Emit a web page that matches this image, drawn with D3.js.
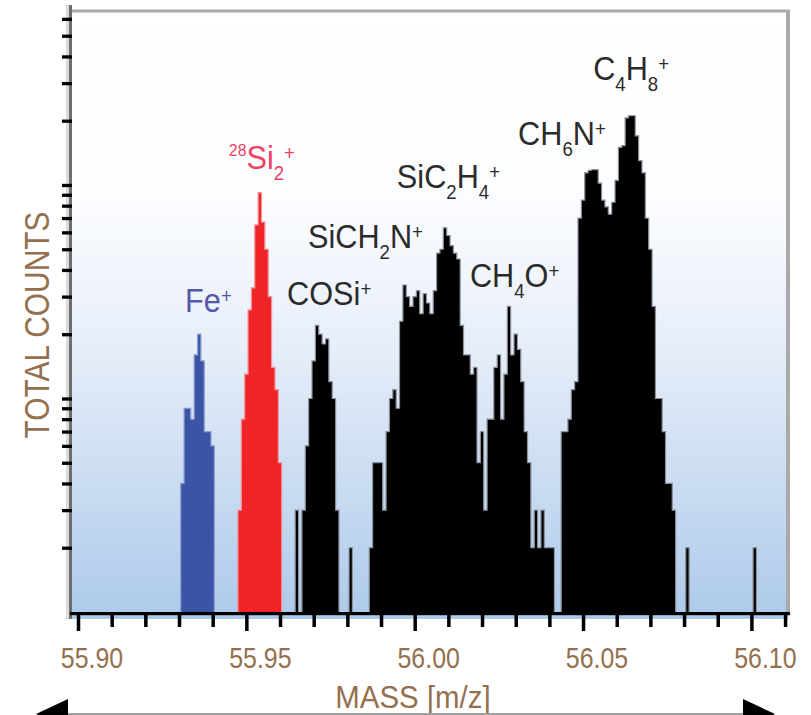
<!DOCTYPE html>
<meta charset="utf-8">
<script src="https://d3js.org/d3.v7.min.js"></script>
<style>
  body { margin: 0; background: #fff; }
  svg { display: block; }
  text { font-family: "Liberation Sans", Arial, sans-serif; }
</style>
<div id="chart"></div>
<script>

// histogram bins are 0.001 m/z wide, centred on the listed masses
const binWidth = 0.001;

// Fe+ (blue)
const feStart = 55.931;
const feCounts = [4, 9, 9, 8, 16, 20, 15, 7, 7, 6];

// 28Si2+ (red)
const siStart = 55.948;
const siCounts = [3, 8, 13, 26, 33, 65, 92, 67, 50, 30, 14, 11, 5];

// everything else (black), 55.965 .. 56.101
const blackStart = 55.965;
const blackCounts = [
  3, 0, 3, 6, 10, 15, 22, 20, 18, 19,
  12, 10, 3, 0, 0, 0, 2, 0, 0, 0,
  0, 0, 2, 5, 5, 5, 3, 7, 10, 11,
  9, 23, 34, 30, 27, 30, 32, 25, 31, 28,
  25, 32, 48, 50, 63, 58, 52, 48, 45, 22,
  16, 16, 13, 14, 5, 7, 3, 8, 8, 14,
  16, 8, 13, 27, 16, 20, 17, 12, 7, 5,
  2, 3, 2, 3, 2, 2, 2, 0, 0, 7,
  7, 8, 11, 12, 70, 85, 114, 117, 118, 118,
  102, 85, 79, 73, 83, 105, 150, 153, 206, 211,
  211, 170, 130, 114, 70, 50, 27, 10, 10, 7,
  4, 4, 3, 0, 0, 0, 2, 0, 0, 0,
  0, 0, 0, 0, 0, 0, 0, 0, 0, 0,
  0, 0, 0, 0, 0, 0, 2
];

const xTicks = [55.90, 55.91, 55.92, 55.93, 55.94, 55.95, 55.96, 55.97, 55.98, 55.99,
                56.00, 56.01, 56.02, 56.03, 56.04, 56.05, 56.06, 56.07, 56.08, 56.09,
                56.10, 56.11];
const xMajor = [55.90, 55.95, 56.00, 56.05, 56.10];
const yTicks = [2, 3, 4, 5, 6, 7, 8, 9, 10, 20, 30, 40, 50, 60, 70, 80, 90, 100,
                200, 300, 400, 500, 600];

// peak labels, anchored at (mass, count) of the text baseline start
const peakLabels = [
  { mass: 55.9318, count: 25.4, color: "#5757a8", parts: [["Fe", ""], ["+", "sup"]] },
  { mass: 55.9448, count: 119, color: "#ee4262", parts: [["28", "pre"], ["Si", ""], ["2", "sub"], ["+", "sup"]] },
  { mass: 55.9621, count: 27.4, color: "#2b2b2b", parts: [["COSi", ""], ["+", "sup"]] },
  { mass: 55.9683, count: 50.7, color: "#2b2b2b", parts: [["SiCH", ""], ["2", "sub"], ["N", ""], ["+", "sup"]] },
  { mass: 55.9947, count: 96.8, color: "#2b2b2b", parts: [["SiC", ""], ["2", "sub"], ["H", ""], ["4", "sub"], ["+", "sup"]] },
  { mass: 56.0164, count: 33.2, color: "#2b2b2b", parts: [["CH", ""], ["4", "sub"], ["O", ""], ["+", "sup"]] },
  { mass: 56.0307, count: 154, color: "#2b2b2b", parts: [["CH", ""], ["6", "sub"], ["N", ""], ["+", "sup"]] },
  { mass: 56.0530, count: 310, color: "#2b2b2b", parts: [["C", ""], ["4", "sub"], ["H", ""], ["8", "sub"], ["+", "sup"]] }
];

const width = 811, height = 715;
const axisColor = "#94704e";

const svg = d3.select("#chart").append("svg")
    .attr("width", width)
    .attr("height", height);

const x = d3.scaleLinear().domain([55.90, 56.10]).range([78, 751.4]);
const y = d3.scaleLog().domain([1, 660]).range([612, 10]);

// background gradient
const grad = svg.append("defs").append("linearGradient")
    .attr("id", "bg").attr("x1", 0).attr("y1", 0).attr("x2", 0).attr("y2", 1);
grad.append("stop").attr("offset", 0).attr("stop-color", "#ffffff");
grad.append("stop").attr("offset", 0.3).attr("stop-color", "#fcfdff");
grad.append("stop").attr("offset", 0.55).attr("stop-color", "#e7eef9");
grad.append("stop").attr("offset", 1).attr("stop-color", "#adcaea");

svg.append("rect")
    .attr("x", 72).attr("y", 12).attr("width", 716).attr("height", 607)
    .attr("fill", "url(#bg)");

// frame top / right
svg.append("rect").attr("x", 72).attr("y", 9.5).attr("width", 718).attr("height", 3).attr("fill", "#aaaaaa");
svg.append("rect").attr("x", 786).attr("y", 10).attr("width", 4).attr("height", 605).attr("fill", "#aaaaaa");

// histograms
function bins(start, counts) {
    const pts = [];
    counts.forEach(function (c, i) {
        const m = start + i * binWidth;
        pts.push({ x: m - binWidth / 2, c: c });
        pts.push({ x: m + binWidth / 2, c: c });
    });
    return pts;
}

const area = d3.area()
    .defined(function (d) { return d.c > 0; })
    .x(function (d) { return x(d.x); })
    .y0(614)
    .y1(function (d) { return y(Math.max(d.c, 1)); });

const series = [
    { start: feStart, counts: feCounts, fill: "#3b54a6", edge: "#8e9fd2" },
    { start: siStart, counts: siCounts, fill: "#ee2427", edge: "#f1959e" },
    { start: blackStart, counts: blackCounts, fill: "#000000", edge: "#8b9099" }
];

svg.append("g").selectAll("path")
    .data(series)
    .join("path")
    .attr("d", function (d) { return area(bins(d.start, d.counts)); })
    .attr("fill", function (d) { return d.fill; })
    .attr("stroke", function (d) { return d.edge; })
    .attr("stroke-width", 1.2);

// y axis
svg.append("rect").attr("x", 66).attr("y", 5).attr("width", 3).attr("height", 614).attr("fill", "#dcdcdc");
svg.append("rect").attr("x", 69).attr("y", 5).attr("width", 3).attr("height", 614).attr("fill", "#6e6e6e");

const yAxis = svg.append("g")
    .attr("transform", "translate(72,0)")
    .call(d3.axisLeft(y).tickValues(yTicks).tickSize(10).tickFormat(""));
yAxis.select(".domain").remove();
yAxis.selectAll(".tick line").attr("stroke", "#000").attr("stroke-width", 3.3);

// x axis
svg.append("rect").attr("x", 70).attr("y", 612).attr("width", 720).attr("height", 3.2).attr("fill", "#000");

const xAxis = svg.append("g")
    .attr("transform", "translate(0,615)")
    .call(d3.axisBottom(x).tickValues(xTicks).tickSize(12).tickFormat(""));
xAxis.select(".domain").remove();
xAxis.selectAll(".tick line")
    .attr("stroke", "#000")
    .attr("stroke-width", 3.5)
    .attr("y2", function (d) {
        return xMajor.some(function (m) { return Math.abs(m - d) < 1e-6; }) ? 16 : 12;
    });

svg.append("g").selectAll("text")
    .data(xMajor)
    .join("text")
    .attr("transform", function (d) { return "translate(" + (x(d) + 14) + ",668) scale(0.86,1)"; })
    .attr("text-anchor", "middle")
    .attr("font-size", 29)
    .attr("fill", axisColor)
    .text(d3.format(".2f"));

// axis titles
svg.append("text")
    .attr("transform", "translate(49,325) rotate(-90) scale(0.83,1)")
    .attr("text-anchor", "middle")
    .attr("font-size", 36)
    .attr("fill", axisColor)
    .text("TOTAL COUNTS");

svg.append("text")
    .attr("transform", "translate(413,708) scale(0.95,1)")
    .attr("text-anchor", "middle")
    .attr("font-size", 31)
    .attr("fill", axisColor)
    .text("MASS [m/z]");

// arrows under the axis
svg.append("line")
    .attr("x1", 68).attr("x2", 743).attr("y1", 714).attr("y2", 714)
    .attr("stroke", "#a0a0a0").attr("stroke-width", 2);
svg.append("path").attr("d", "M36,714L68,699L68,729Z").attr("fill", "#000");
svg.append("path").attr("d", "M775,714L743,699L743,729Z").attr("fill", "#000");

// peak labels
const shift = { "": [33, 0], sub: [20, 11], sup: [20, -9], pre: [17, -13] };

peakLabels.forEach(function (p) {
    const t = svg.append("text")
        .attr("transform", "translate(" + x(p.mass) + "," + y(p.count) + ") scale(0.93,1)")
        .attr("fill", p.color);
    let cur = 0;
    p.parts.forEach(function (part) {
        const s = shift[part[1]];
        t.append("tspan")
            .attr("font-size", s[0])
            .attr("dy", s[1] - cur)
            .text(part[0]);
        cur = s[1];
    });
});

</script>
